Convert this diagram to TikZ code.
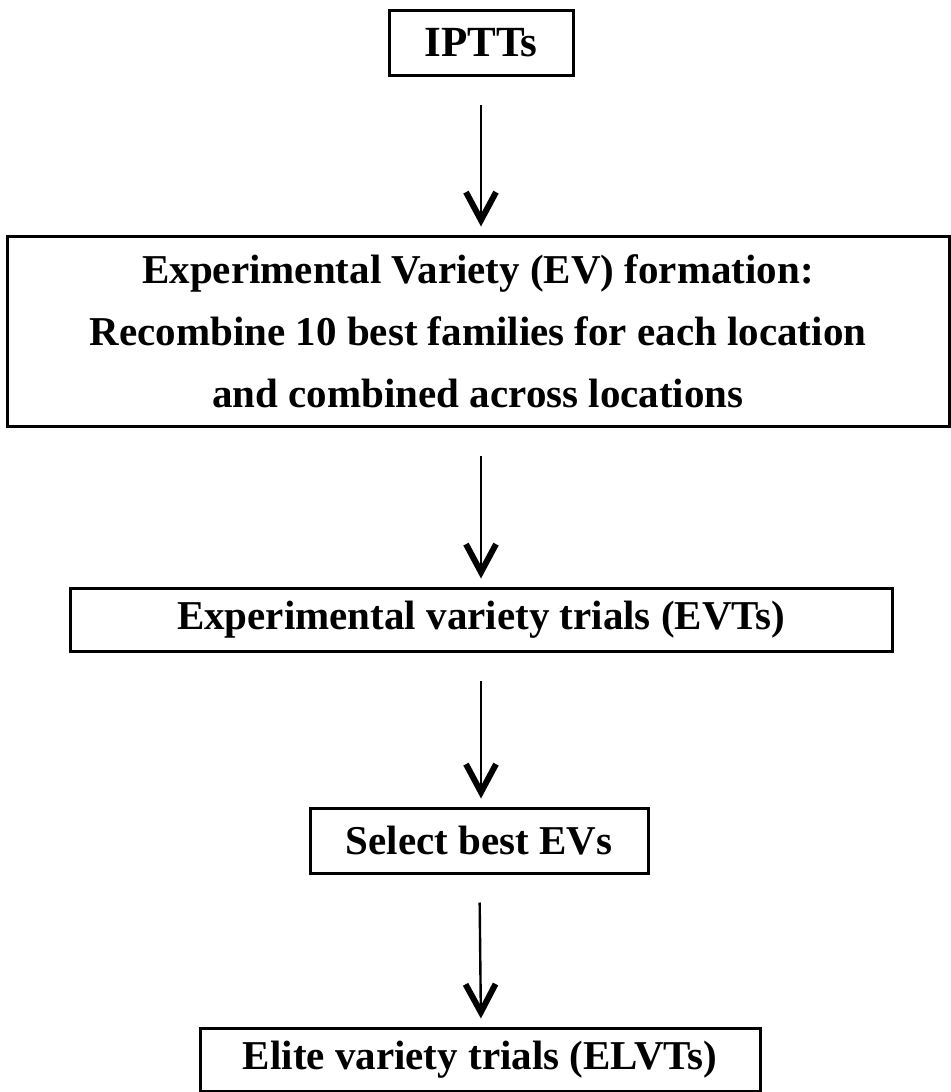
\documentclass[tikz,border=0pt]{standalone}
\usepackage{fontspec}
\setmainfont{Liberation Serif}
\usetikzlibrary{arrows.meta}

\begin{document}
\begin{tikzpicture}[x=0.5pt, y=-0.5pt]
	\tikzstyle{stage_box} = [draw=black, line width=1.5pt, inner sep=2pt, align=center,
		font=\bfseries\fontsize{20.5}{31}\selectfont]
	\tikzstyle{flow_arrow} = [line width=1.2pt, shorten <=14pt, shorten >=4pt,
		-{Straight Barb[length=14pt, width=15pt, line width=3pt]}]

	\useasboundingbox (0,0) rectangle (951,1092);

%------------------------------------------------------------
	\node[stage_box, minimum width=92pt, minimum height=32.5pt,
		font=\bfseries\fontsize{21.5}{31}\selectfont] (ipt) at (481,42.5) {IPTTs};

	\node[stage_box, minimum width=471pt, minimum height=95pt] (evf) at (478,331)
		{Experimental Variety (EV) formation:\\
		 Recombine 10 best families for each location\\
		 and combined across locations};

	\node[stage_box, minimum width=411pt, minimum height=31.5pt] (evt) at (481,619.5)
		{Experimental variety trials (EVTs)};

	\node[stage_box, minimum width=169pt, minimum height=32.5pt] (sel) at (479,840.5)
		{Select best EVs};

	\node[stage_box, minimum width=280pt, minimum height=31.5pt] (elv) at (480,1059.5)
		{Elite variety trials (ELVTs)};

%------------------------------------------------------------
	\path[flow_arrow] (ipt) edge (evf.north -| ipt);
	\path[flow_arrow] (evf.south -| ipt) edge (evt.north -| ipt);
	\path[flow_arrow] (evt.south -| ipt) edge (sel.north -| ipt);
	\path[flow_arrow] (sel) edge (elv.north -| ipt);

	\end{tikzpicture}
\end{document}
